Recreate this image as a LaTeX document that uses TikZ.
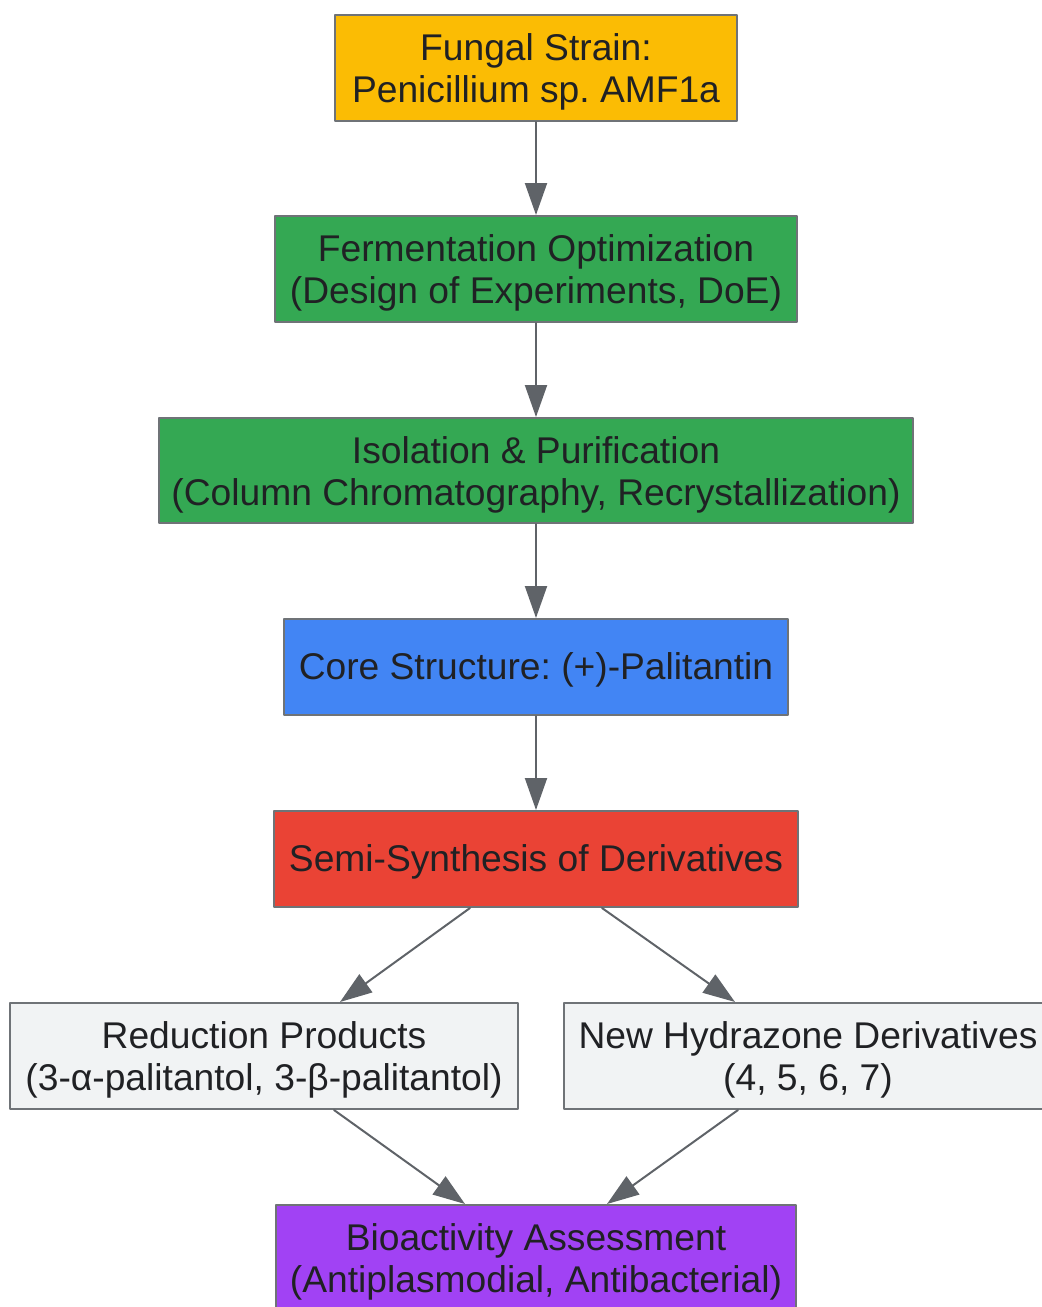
\documentclass[tikz,border=0pt]{standalone}
\usepackage{fontspec}
\setmainfont{Liberation Sans}
\usetikzlibrary{arrows.meta}
\definecolor{fungal}{HTML}{FBBC04}
\definecolor{ferm}{HTML}{34A853}
\definecolor{core}{HTML}{4285F4}
\definecolor{semi}{HTML}{EA4335}
\definecolor{deriv}{HTML}{F1F3F4}
\definecolor{bio}{HTML}{A142F4}
\definecolor{edge}{HTML}{5F6368}
\definecolor{txt}{HTML}{202124}
\newcommand{\boxstrut}{\rule[-4.1pt]{0pt}{21pt}}
\newcommand{\headstrut}{\rule[-4.1pt]{0pt}{22pt}}
\frenchspacing
\begin{document}
\begin{tikzpicture}[x=0.5pt,y=-0.5pt,line cap=round,line join=round,
  box/.style={draw=edge!90!white,line width=1pt,inner sep=0pt,align=center,text=txt,
    font=\fontsize{18.6}{21}\selectfont,
    execute at begin node=\boxstrut,execute at end node=\boxstrut},
  flow/.style={-{Triangle[length=16pt,width=11pt]},draw=edge,line width=1pt}]
\useasboundingbox (0,0) rectangle (1042,1307);
\node[box,fill=fungal,minimum width=201pt,minimum height=53pt] (strain) at (536,68) {\headstrut Fungal Strain:\\Penicillium sp. AMF1a};
\node[box,fill=ferm,minimum width=261pt,minimum height=53pt] (doe) at (536,269) {\headstrut Fermentation Optimization\\(Design of Experiments, DoE)};
\node[box,fill=ferm,minimum width=377pt,minimum height=52.5pt] (iso) at (536,470.5) {\headstrut Isolation \& Purification\\(Column Chromatography, Recrystallization)};
\node[box,fill=core,minimum width=252pt,minimum height=48pt] (core) at (536,667) {Core Structure: (+)-Palitantin};
\node[box,fill=semi,minimum width=262pt,minimum height=48pt] (semi) at (536,859) {Semi-Synthesis of Derivatives};
\node[box,fill=deriv,minimum width=254pt,minimum height=53pt] (redu) at (264,1056) {\headstrut Reduction Products\\(3-α-palitantol, 3-β-palitantol)};
\node[box,fill=deriv,minimum width=244pt,minimum height=53pt] (hydra) at (808,1056) {\headstrut New Hydrazone Derivatives\\(4, 5, 6, 7)};
\node[box,fill=bio,minimum width=260pt,minimum height=53pt] (assay) at (536,1258) {\headstrut Bioactivity Assessment\\(Antiplasmodial, Antibacterial)};
% main line
\draw[flow] (strain) -- (doe);
\draw[flow] (doe) -- (iso);
\draw[flow] (iso) -- (core);
\draw[flow] (core) -- (semi);
% branches
\draw[flow] ([xshift=-33pt]semi.south) -- ([xshift=38pt]redu.north);
\draw[flow] ([xshift=33pt]semi.south) -- ([xshift=-36.5pt]hydra.north);
\draw[flow] ([xshift=35pt]redu.south) -- ([xshift=-35.5pt]assay.north);
\draw[flow] ([xshift=-35pt]hydra.south) -- ([xshift=35.5pt]assay.north);
\end{tikzpicture}
\end{document}
